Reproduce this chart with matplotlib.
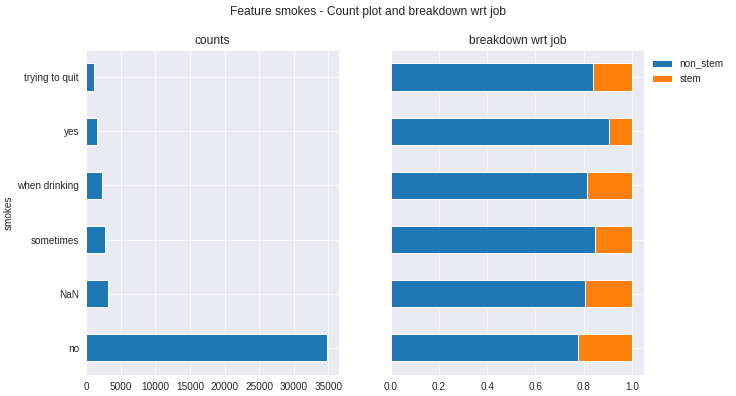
import numpy as np
import pandas as pd
import seaborn as sns
import matplotlib.pyplot as plt

sns.set_style("darkgrid")
plt.rcParams['font.family'] = ['Liberation Sans', 'DejaVu Sans']

# smokes categories, bottom to top
categories = ["no", "NaN", "sometimes", "when drinking", "yes", "trying to quit"]
counts = [34840, 3200, 2750, 2300, 1590, 1150]
non_stem = [0.775, 0.804, 0.846, 0.812, 0.903, 0.840]
stem = [1 - v for v in non_stem]

cnt = pd.Series(counts, index=pd.Index(categories, name="smokes"))
brk = pd.DataFrame({"non_stem": non_stem, "stem": stem},
                   index=pd.Index(categories, name="smokes"))

fig = plt.figure(figsize=(736 / 72, 396 / 72), dpi=72)
ax1 = fig.add_axes([0.117, 0.053, 0.344, 0.821])
ax2 = fig.add_axes([0.531, 0.053, 0.344, 0.821])

cnt.plot.barh(ax=ax1, color="#1f77b4")
ax1.set_title("counts", fontsize=12)
ax1.set_ylabel("smokes", fontsize=10)
ax1.tick_params(labelsize=10)

brk.plot.barh(ax=ax2, stacked=True, color=["#1f77b4", "#ff7f0e"])
ax2.set_title("breakdown wrt job", fontsize=12)
ax2.set_ylabel("")
ax2.set_yticklabels([])
ax2.tick_params(labelsize=10)
ax2.legend(loc="upper left", bbox_to_anchor=(0.995, 1.0), frameon=False, fontsize=10)

fig.suptitle("Feature smokes - Count plot and breakdown wrt job", fontsize=12, y=0.985)

fig.savefig("out.png", dpi=72)
